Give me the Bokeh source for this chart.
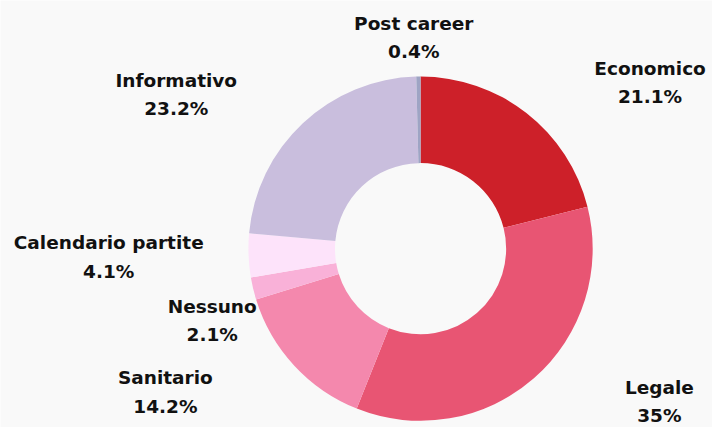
import math
from bokeh.plotting import figure
from bokeh.models import ColumnDataSource, Range1d
from bokeh.core.properties import value
from bokeh.embed import file_html
from bokeh.resources import INLINE

# ---- data ----
categories = ["Economico", "Legale", "Sanitario", "Nessuno",
              "Calendario partite", "Informativo", "Post career"]
percents = [21.1, 35, 14.2, 2.1, 4.1, 23.2, 0.4]
colors = ["#cd2029", "#e85573", "#f488ad", "#f9b1d8",
          "#fde3fa", "#c9bedd", "#9ea4c4"]

# ---- layout (data units = reference pixels, y up) ----
W, H = 712, 427
XR, YR = 728, 443
BG = "#f9f9f9"
cx, cy = 429.5, 185.5          # donut centre
R_OUT, R_IN = 176, 87.5
RHO = 219                      # label anchor radius
OFFSET = 100                   # horizontal offset of label centre from anchor
GAP = 66                       # minimal vertical distance between labels
LINE = 29.5                    # distance between the two label lines
EDGE = 12                      # keep lowest text line inside the picture
FONT = "DejaVu Sans"
FSIZE = "18.5px"

total = sum(percents)
starts, ends, mids = [], [], []
acc = 0.0
for v in percents:
    a0 = acc / total * 2 * math.pi
    acc += v
    a1 = acc / total * 2 * math.pi
    starts.append(math.pi / 2 - a0)
    ends.append(math.pi / 2 - a1)
    mids.append((a0 + a1) / 2)

src = ColumnDataSource(dict(cat=categories, val=percents, color=colors,
                            start=starts, end=ends))

p = figure(width=W, height=H, output_backend="svg", toolbar_location=None,
           x_range=Range1d(0, XR), y_range=Range1d(0, YR),
           min_border=0, background_fill_color=BG, border_fill_color=BG)
p.axis.visible = False
p.grid.visible = False
p.outline_line_color = None

p.annular_wedge(x=cx, y=cy, inner_radius=R_IN, outer_radius=R_OUT,
                start_angle="start", end_angle="end", direction="clock",
                fill_color="color", line_color=None, source=src)

# ---- label placement ----
labels = []
for cat, v, m in zip(categories, percents, mids):
    s = math.sin(m)
    ax = cx + RHO * s
    ay = cy + RHO * math.cos(m)
    h = OFFSET * max(-1.0, min(1.0, s / 0.3))
    labels.append(dict(cat=cat, pct=f"{v:g}%", side=(1 if s >= 0 else -1),
                       ax=ax, x=ax + h, y=max(ay, EDGE + LINE / 2)))

for side in (1, -1):
    group = sorted([l for l in labels if l["side"] == side], key=lambda l: -l["y"])
    placed = []
    for l in group:
        for q in placed:
            if abs(q["x"] - l["x"]) < 150 and q["y"] - l["y"] < GAP:
                l["y"] = q["y"] - GAP
                l["x"] = l["ax"]
        placed.append(l)

lx = [l["x"] for l in labels]
name_y = [l["y"] + LINE / 2 for l in labels]
pct_y = [l["y"] - LINE / 2 for l in labels]
lsrc = ColumnDataSource(dict(x=lx, ny=name_y, py=pct_y,
                             name=[l["cat"] for l in labels],
                             pct=[l["pct"] for l in labels]))
for ycol, tcol in (("ny", "name"), ("py", "pct")):
    p.text(x="x", y=ycol, text=tcol, source=lsrc, text_align="center",
           text_baseline="middle", text_font=value(FONT),
           text_font_style="bold", text_font_size=FSIZE, text_color="#111111")

open("out.html", "w").write(file_html(p, INLINE))
